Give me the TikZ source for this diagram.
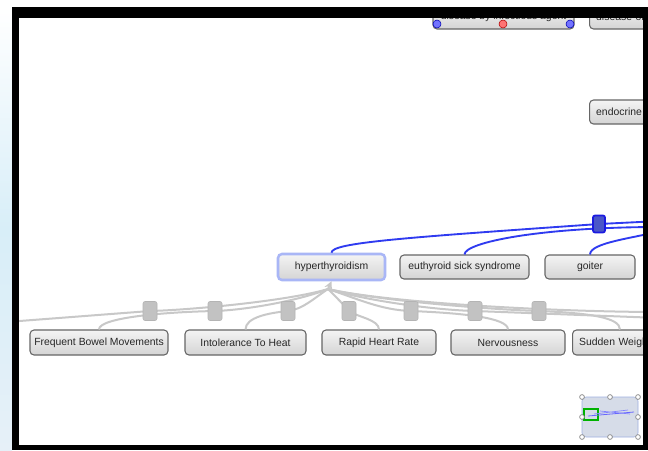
\documentclass[tikz,border=0pt]{standalone}
\usepackage{fontspec}
\setmainfont{Liberation Sans}
\usetikzlibrary{arrows.meta}

\definecolor{boxtop}{HTML}{F4F4F4}
\definecolor{boxbot}{HTML}{D4D4D4}
\definecolor{boxline}{HTML}{666666}
\definecolor{hilite}{HTML}{A9B6F6}
\definecolor{linkgray}{HTML}{C8C8C8}
\definecolor{tagfill}{HTML}{C2C2C2}
\definecolor{tagline}{HTML}{B4B4B4}
\definecolor{linkblue}{HTML}{2F3BF0}
\definecolor{knotfill}{HTML}{4A56C8}
\definecolor{knotline}{HTML}{1A1AE0}
\definecolor{mapfill}{HTML}{D6DCE8}
\definecolor{mapline}{HTML}{9FB0E0}
\definecolor{deskmid}{HTML}{D8EEF8}
\definecolor{desklow}{HTML}{E6F0F8}

\tikzset{
  termbox/.style={draw=boxline, line width=0.8pt, rounded corners=3pt,
    top color=boxtop, bottom color=boxbot, minimum height=18pt, inner sep=0pt,
    font=\fontsize{7.8}{9}\selectfont, text=black!85},
  leftbox/.style={termbox, align=left, inner xsep=5pt},
  pickbox/.style={termbox, draw=hilite, line width=1.9pt},
  tagbox/.style={draw=tagline, fill=tagfill, rounded corners=1.5pt,
    minimum width=10.5pt, minimum height=14.25pt, inner sep=0pt},
  knotbox/.style={draw=knotline, fill=knotfill, line width=1.3pt, rounded corners=1.5pt,
    minimum width=9pt, minimum height=12.75pt, inner sep=0pt},
  grayedge/.style={draw=linkgray, line width=1.5pt},
  blueedge/.style={draw=linkblue, line width=1.4pt},
  portdot/.style={circle, draw=blue!70!black, fill=blue!55, minimum size=6pt, inner sep=0pt},
  handle/.style={draw=gray, fill=white, line width=0.5pt}
}

\begin{document}
\begin{tikzpicture}[x=0.75pt,y=0.75pt,yscale=-1,xscale=1]
\useasboundingbox (0,0) rectangle (648,450);

% desktop strip left of the window
\shade[top color=white, bottom color=desklow, middle color=deskmid] (0,7) rectangle (12,450);
\fill[white] (19,18) rectangle (643,445);

\begin{scope}
\clip (19,18) rectangle (643,445);

% upper nodes (cut by the frame)
\node[termbox, minimum width=105.75pt, minimum height=18pt] (infect) at (503.5,17) {disease by infectious agent};
\node[portdot] (infl) at (437,24) {};
\node[portdot, fill=red!55, draw=red!70!black] (infm) at (503,24) {};
\node[portdot] (infr) at (570,24) {};
\node[leftbox, text width=70pt, minimum height=18pt, anchor=west] (diseaseof) at (589,17) {disease of};
\node[leftbox, text width=60pt, anchor=west] (endo) at (589,112) {endocrine};

% middle row
\node[pickbox, minimum width=80.25pt, minimum height=19.5pt] (hyper) at (331.5,267) {hyperthyroidism};
\node[termbox, minimum width=96.75pt] (euthy) at (464.5,267) {euthyroid sick syndrome};
\node[termbox, minimum width=67.5pt] (goiter) at (590,267) {goiter};

% symptom row
\node[termbox, minimum width=103.5pt, minimum height=18.75pt] (bowel) at (99,342.5) {Frequent Bowel Movements};
\node[termbox, minimum width=90.75pt, minimum height=18.75pt] (heat) at (245.5,342.5) {Intolerance To Heat};
\node[termbox, minimum width=85.5pt, minimum height=18.75pt] (heart) at (379,342.5) {Rapid Heart Rate};
\node[termbox, minimum width=85.5pt, minimum height=18.75pt] (nerv) at (508,342.5) {Nervousness};
\node[leftbox, text width=90pt, minimum height=18.75pt, anchor=west] (sudden) at (572,342.5) {Sudden Weight Loss};

% loose ends past the window
\coordinate (hub) at (328,289);
\coordinate (offL) at (0,322.5);
\coordinate (offR) at (660,318);
\coordinate (offR2) at (660,312);
\coordinate (ph) at (660,221);
\coordinate (pe) at (660,227);
\coordinate (pg) at (660,231);
\coordinate (suddtop) at ([xshift=36pt]sudden.north west);

% label slots on the gray links
\coordinate (b1) at (150,311);
\coordinate (b2) at (215,311);
\coordinate (b3) at (288,311);
\coordinate (b4) at (349,311);
\coordinate (b5) at (411,311);
\coordinate (b6) at (475,311);
\coordinate (b7) at (539,311);
\coordinate (bc) at (599,224);

% gray links
\draw[grayedge] (hub) .. controls +(-40,12) and +(40,-1) .. (b1) -- (offL);
\draw[grayedge] (hub) .. controls +(-30,12) and +(30,-1) .. (b2) .. controls +(-50,1) and +(0,-12) .. (bowel.north);
\draw[grayedge] (hub) .. controls +(-15,10) and +(15,-2) .. (b3) .. controls +(-20,2) and +(0,-12) .. (heat.north);
\draw[grayedge] (hub) .. controls +(8,8) and +(-5,-6) .. (b4) .. controls +(8,6) and +(0,-10) .. (heart.north);
\draw[grayedge] (hub) .. controls +(30,10) and +(-30,-1) .. (b5) .. controls +(50,2) and +(0,-12) .. (nerv.north);
\draw[grayedge] (hub) .. controls +(40,12) and +(-40,-1) .. (b6) -- (offR);
\draw[grayedge] (hub) .. controls +(50,12) and +(-40,-1) .. (b7) .. controls +(50,2) and +(0,-12) .. (suddtop);
\draw[grayedge] (hub) .. controls +(60,14) and +(-100,0) .. (offR2);
\draw[grayedge, -{Stealth[length=6pt,width=6pt]}] (hub) -- (hyper.south);

% blue links
\draw[blueedge] (hyper.north) .. controls +(0,-10) and +(-200,14) .. (bc);
\draw[blueedge] (bc) -- (ph);
\draw[blueedge] (euthy.north) .. controls +(0,-12) and +(-120,0) .. (pe);
\draw[blueedge] (goiter.north) .. controls +(0,-12) and +(-25,7) .. (pg);

\foreach \b in {b1,b2,b3,b4,b5,b6,b7}
  \node[tagbox] at (\b) {};
\node[knotbox] (knot) at (bc) {};

% overview map
\draw[rounded corners=3pt, fill=mapfill, draw=mapline] (582,397) rectangle (638,437);
\draw[green!70!black, line width=0.8pt] (584,409) rectangle (598,420);
\draw[blue!60, line width=0.6pt] (588,416) -- (634,412);
\draw[blue!50, line width=0.5pt] (594,414) -- (628,410) (600,411) -- (630,414);
\foreach \hx/\hy in {582/397,610/397,638/397,582/417,638/417,582/437,610/437,638/437}
  \draw[handle] (\hx,\hy) circle (2.4);
\end{scope}

% window frame
\fill[black] (12,7) rectangle (648,18);
\fill[black] (12,7) rectangle (19,450);
\fill[black] (643,7) rectangle (648,450);
\fill[black] (12,445) rectangle (648,450);
\end{tikzpicture}
\end{document}
